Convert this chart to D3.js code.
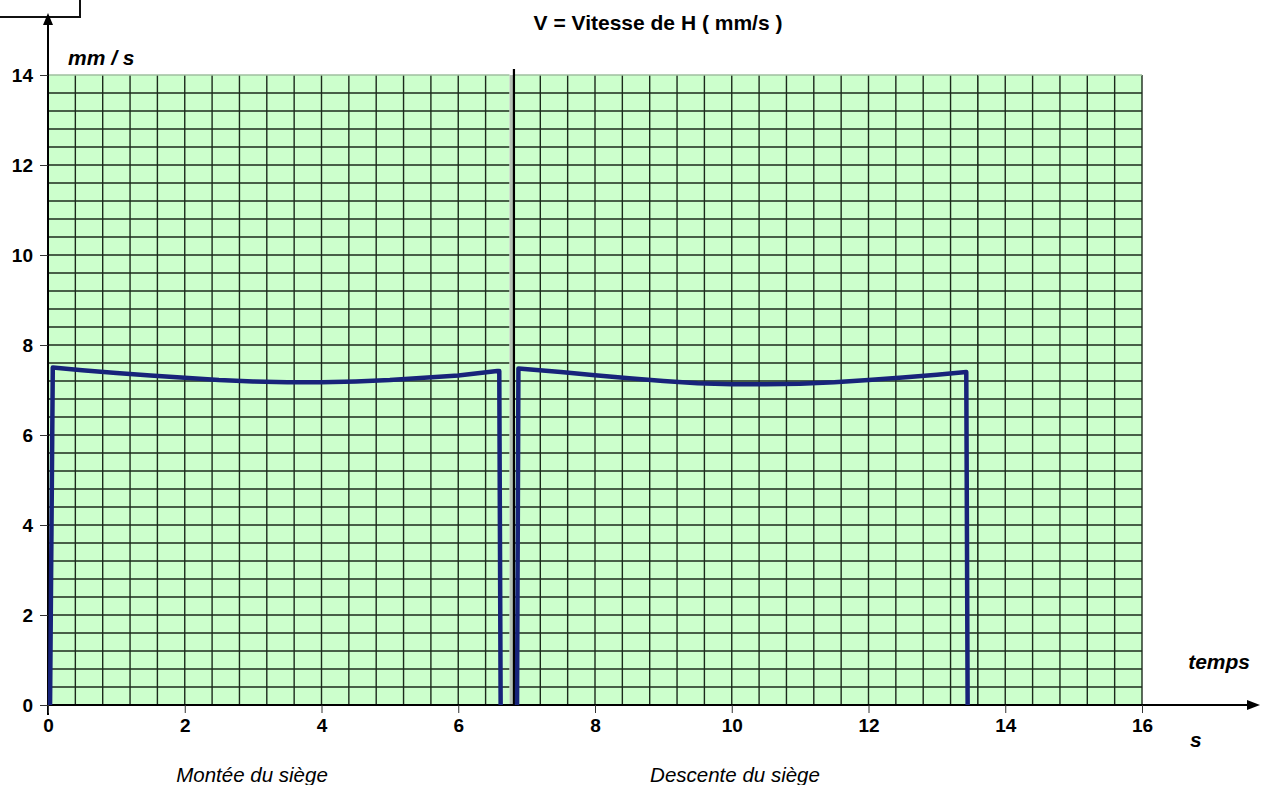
<!DOCTYPE html>
<html>
<head>
<meta charset="utf-8">
<script src="https://cdn.jsdelivr.net/npm/d3@7"></script>
<style>
  body { margin: 0; background: #fff; }
  svg { display: block; font-family: "Liberation Sans", Arial, sans-serif; }
</style>
</head>
<body>
<div id="chart"></div>
<script>
// Data
const xTicks = [0, 2, 4, 6, 8, 10, 12, 14, 16];
const yTicks = [0, 2, 4, 6, 8, 10, 12, 14];

// grid panels (seconds): pasted pieces of graph paper
const panelStart = [0, 6.8, 13.6];
const panelEnd = [6.75, 13.6, 16];

// Montée du siège
const upTime = [0.03, 0.07, 0.5, 1, 1.5, 2, 2.5, 3, 3.5, 4, 4.5, 5, 5.5, 6, 6.57, 6.6, 6.62];
const upSpeed = [0, 7.5, 7.44, 7.38, 7.32, 7.27, 7.22, 7.19, 7.17, 7.17, 7.19, 7.22, 7.27, 7.32, 7.42, 7.42, 0];

// Descente du siège
const downTime = [6.86, 6.88, 7.5, 8, 8.5, 9, 9.5, 10, 10.5, 11, 11.5, 12, 12.5, 13, 13.43, 13.45];
const downSpeed = [0, 7.48, 7.4, 7.33, 7.26, 7.2, 7.15, 7.13, 7.13, 7.14, 7.17, 7.22, 7.28, 7.34, 7.4, 0];

(function() {
    const width = 1263, height = 785;
    const svg = d3.select("#chart").append("svg")
        .attr("width", width)
        .attr("height", height);

    const x = d3.scaleLinear().domain([0, 16]).range([48, 1142]);
    const y = d3.scaleLinear().domain([0, 14]).range([705, 75]);

    // small boxed area top-left
    svg.append("rect")
        .attr("x", -2).attr("y", -2)
        .attr("width", 82).attr("height", 19)
        .attr("fill", "none")
        .attr("stroke", "#111")
        .attr("stroke-width", 2);

    // green grid panels
    const gridStep = 0.4;
    const rows = d3.range(0, 14 + 1e-9, gridStep);
    panelStart.forEach((x0, i) => {
        const x1 = panelEnd[i];
        const g = svg.append("g");
        g.append("rect")
            .attr("x", x(x0)).attr("y", y(14))
            .attr("width", x(x1) - x(x0))
            .attr("height", y(0) - y(14))
            .attr("fill", "#ccffcc");
        const cols = d3.range(Math.ceil(x0 / gridStep - 1e-6), Math.floor(x1 / gridStep + 1e-6) + 1)
            .map(k => k * gridStep);
        g.selectAll(".v").data(cols).join("line")
            .attr("x1", d => x(d)).attr("x2", d => x(d))
            .attr("y1", y(14)).attr("y2", y(0))
            .attr("stroke", "#1c2a1c")
            .attr("stroke-width", 1.4);
        g.selectAll(".h").data(rows).join("line")
            .attr("x1", x(x0)).attr("x2", x(x1))
            .attr("y1", d => y(d)).attr("y2", d => y(d))
            .attr("stroke", d => d === 14 ? "#9fbf9f" : "#1c2a1c")
            .attr("stroke-width", 1.4);
    });

    // grey seam between first two panels and dark edge of second one
    svg.append("rect")
        .attr("x", x(panelEnd[0])).attr("y", y(14))
        .attr("width", x(panelStart[1]) - x(panelEnd[0]))
        .attr("height", y(0) - y(14))
        .attr("fill", "#b5c2b5");
    svg.append("line")
        .attr("x1", x(panelStart[1]) + 1).attr("x2", x(panelStart[1]) + 1)
        .attr("y1", y(14) - 6).attr("y2", y(0))
        .attr("stroke", "#000").attr("stroke-width", 2.2);

    // axes
    const axisColor = "#000";
    svg.append("line")
        .attr("x1", x(0)).attr("x2", x(0))
        .attr("y1", y(0) + 10).attr("y2", 24)
        .attr("stroke", axisColor).attr("stroke-width", 2);
    svg.append("path")
        .attr("d", `M${x(0)},13 L${x(0) - 5},25 L${x(0) + 5},25 Z`)
        .attr("fill", axisColor);
    svg.append("line")
        .attr("x1", x(0)).attr("x2", 1250)
        .attr("y1", y(0)).attr("y2", y(0))
        .attr("stroke", axisColor).attr("stroke-width", 2);
    svg.append("path")
        .attr("d", `M1260,${y(0)} L1247,${y(0) - 5} L1247,${y(0) + 5} Z`)
        .attr("fill", axisColor);

    const yAxis = d3.axisLeft(y).tickValues(yTicks).tickSize(8).tickPadding(7);
    svg.append("g")
        .attr("transform", `translate(${x(0)},0)`)
        .call(yAxis)
        .call(g => g.select(".domain").remove())
        .call(g => g.selectAll("line").attr("stroke", "#333").attr("stroke-width", 1))
        .call(g => g.selectAll("text")
            .attr("font-size", 19).attr("font-weight", "bold").attr("fill", "#000")
            .attr("font-family", "'Liberation Sans', Arial, sans-serif"));

    const xAxis = d3.axisBottom(x).tickValues(xTicks).tickSize(8).tickPadding(6);
    svg.append("g")
        .attr("transform", `translate(0,${y(0)})`)
        .call(xAxis)
        .call(g => g.select(".domain").remove())
        .call(g => g.selectAll("line").attr("stroke", "#333").attr("stroke-width", 1))
        .call(g => g.selectAll("text")
            .attr("font-size", 19).attr("font-weight", "bold").attr("fill", "#000")
            .attr("font-family", "'Liberation Sans', Arial, sans-serif"));

    // speed curves
    const line = d3.line()
        .x(d => x(d[0]))
        .y(d => y(d[1]));
    const curves = [d3.zip(upTime, upSpeed), d3.zip(downTime, downSpeed)];
    svg.selectAll(".curve").data(curves).join("path")
        .attr("class", "curve")
        .attr("d", line)
        .attr("fill", "none")
        .attr("stroke", "#17237a")
        .attr("stroke-width", 4.5)
        .attr("stroke-linejoin", "round");

    // texts
    svg.append("text")
        .attr("x", 658).attr("y", 30)
        .attr("text-anchor", "middle")
        .attr("font-size", 21).attr("font-weight", "bold")
        .text("V = Vitesse de H ( mm/s )");
    svg.append("text")
        .attr("x", 68).attr("y", 65)
        .attr("font-size", 21).attr("font-weight", "bold").attr("font-style", "italic")
        .text("mm / s");
    svg.append("text")
        .attr("x", 1250).attr("y", 669)
        .attr("text-anchor", "end")
        .attr("font-size", 21).attr("font-weight", "bold").attr("font-style", "italic")
        .text("temps");
    svg.append("text")
        .attr("x", 1190).attr("y", 747)
        .attr("font-size", 21).attr("font-weight", "bold").attr("font-style", "italic")
        .text("s");
    svg.append("text")
        .attr("x", 252).attr("y", 782)
        .attr("text-anchor", "middle")
        .attr("font-size", 20.5).attr("font-style", "italic")
        .text("Montée du siège");
    svg.append("text")
        .attr("x", 735).attr("y", 782)
        .attr("text-anchor", "middle")
        .attr("font-size", 20.5).attr("font-style", "italic")
        .text("Descente du siège");
})();
</script>
</body>
</html>
